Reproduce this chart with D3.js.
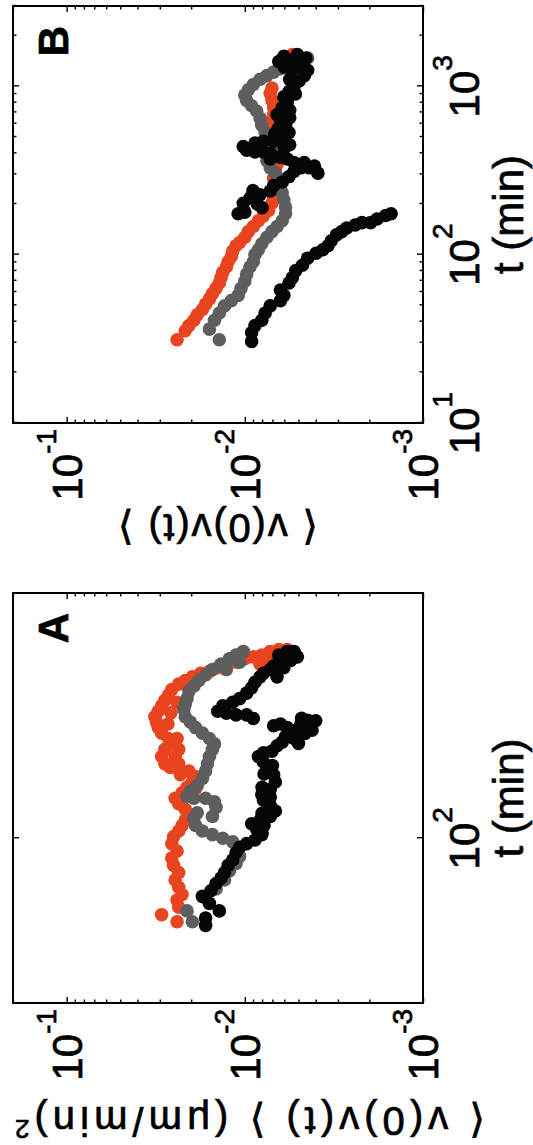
<!DOCTYPE html>
<html>
<head>
<meta charset="utf-8">
<script src="https://cdn.jsdelivr.net/npm/d3@7"></script>
<style>
  body { margin: 0; background: #fff; }
  text { font-family: "Liberation Sans", Arial, Helvetica, "DejaVu Sans", sans-serif; fill: #000; stroke: #000; stroke-width: 0.7px; }
</style>
</head>
<body>
<svg id="chart" width="533" height="1145"></svg>
<script>
// [t (min), <v(0)v(t)>]

const aRed = [[57.2,0.0293],[54.3,0.0240],[60.4,0.0235],[63.7,0.0240],[66.3,0.0225],[69.9,0.0235],[73.7,0.0246],[77.8,0.0235],
  [82.0,0.0251],[86.5,0.0257],[91.1,0.0240],[96.1,0.0257],[101.3,0.0251],[105.4,0.0235],[109.7,0.0225],[114.2,0.0216],
  [118.8,0.0206],[123.6,0.0216],[128.7,0.0235],[133.9,0.0246],[139.3,0.0225],[145.0,0.0211],[150.8,0.0197],[157.0,0.0189],
  [163.3,0.0206],[165.5,0.0235],[167.7,0.0262],[172.2,0.0281],[181.6,0.0293],[191.4,0.0281],[199.2,0.0257],[207.3,0.0268],
  [215.6,0.0293],[224.4,0.0306],[233.5,0.0313],[243.0,0.0320],[252.8,0.0306],[263.1,0.0293],[273.7,0.0281],[284.8,0.0268],
  [296.4,0.0257],[308.4,0.0235],[316.7,0.0216],[325.2,0.0197],[333.9,0.0177],[338.4,0.0158],[347.5,0.0142],[352.1,0.0127],
  [361.6,0.0112],[371.3,0.0100],[376.3,0.00896],[381.3,0.00803],[391.5,0.00720],[396.7,0.00645],[396.7,0.00578],
  [356.8,0.00821],[361.6,0.00720],[181.6,0.0246],[191.4,0.0235],[172.2,0.0235],[159.0,0.0230],[143.1,0.0190],
  [207.3,0.0240],[230.4,0.0270],[250.0,0.0260],[270.0,0.0240]];

const aGray = [[58.8,0.0211],[54.3,0.0197],[64.6,0.0166],[69.0,0.0145],[73.7,0.0130],[78.8,0.0122],[83.1,0.0112],[87.6,0.0107],
  [92.3,0.0109],[97.4,0.0117],[100,0.0133],[102.7,0.0152],[105.4,0.0173],[109.7,0.0189],[115.7,0.0193],[120.4,0.0185],
  [117.2,0.0152],[125.3,0.0145],[130.4,0.0148],[133.9,0.0166],[133.9,0.0193],[135.7,0.0211],[141.2,0.0202],[146.9,0.0185],
  [154.9,0.0173],[163.3,0.0166],[172.2,0.0162],[181.6,0.0158],[191.4,0.0152],[199.2,0.0148],[207.3,0.0158],[215.6,0.0173],
  [224.4,0.0189],[233.5,0.0202],[243.0,0.0216],[256.2,0.0220],[266.6,0.0216],[277.4,0.0211],[292.5,0.0206],[304.3,0.0193],
  [316.7,0.0181],[329.5,0.0166],[342.9,0.0152],[356.8,0.0136],[371.3,0.0122],[381.3,0.0112],[391.5,0.0102],[361.6,0.0107],
  [342.9,0.0127]];

const aBlack = [[52.9,0.0166],[58.8,0.0139],[55.8,0.0166],[62.1,0.0158],[65.4,0.0173],[68.1,0.0155],[71.8,0.0145],[74.7,0.0136],
  [77.8,0.0130],[82.0,0.0124],[85.3,0.0117],[89.9,0.0112],[93.6,0.0107],[96.1,0.00977],[98.7,0.00877],[102.7,0.00803],
  [106.9,0.00858],[111.2,0.00916],[114.2,0.00821],[117.2,0.00720],[122.0,0.00674],[127.0,0.00720],[132.1,0.00786],
  [137.5,0.00803],[143.1,0.00720],[150.8,0.00674],[159.0,0.00689],[167.7,0.00720],[174.5,0.00786],[181.6,0.00839],
  [186.5,0.00786],[189.0,0.00704],[196.6,0.00659],[201.8,0.00617],[210.0,0.00591],[215.6,0.00541],[221.4,0.00507],
  [230.4,0.00485],[236.6,0.00444],[233.5,0.00417],[227.4,0.00464],[207.3,0.00530],[224.4,0.00578],[230.4,0.00631],
  [227.4,0.00689],[239.8,0.00896],[246.2,0.00977],[246.2,0.0112],[249.5,0.0127],[252.8,0.0142],[263.1,0.0133],
  [270.1,0.0117],[277.4,0.0107],[288.6,0.00977],[300.3,0.00916],[312.5,0.00877],[325.2,0.00821],[333.9,0.00786],
  [342.9,0.00720],[352.1,0.00689],[361.6,0.00645],[371.3,0.00604],[381.3,0.00565],[391.5,0.00530],[376.3,0.00507],
  [366.4,0.00553],[347.5,0.00604],[325.2,0.00659],[391.5,0.00578],[381.3,0.00645],[104,0.0080],[110,0.0078],
  [120,0.0080],[135,0.0072],[145,0.0080],[160,0.0078],[170,0.0070],[200,0.0050],[215,0.0046],[220,0.0042],
  [236,0.0040],[240,0.0048],[210,0.0055]];

const bRed = [[31.2,0.0240],[35.3,0.0216],[37.9,0.0206],[40.8,0.0193],[43.9,0.0185],[47.2,0.0173],[50.8,0.0166],[54.6,0.0158],
  [58.7,0.0152],[63.1,0.0145],[67.9,0.0139],[73.0,0.0136],[78.5,0.0133],[84.4,0.0127],[90.8,0.0124],[97.6,0.0119],
  [105,0.0117],[113,0.0112],[118,0.0107],[127,0.0100],[137,0.00956],[147,0.00896],[159,0.00839],[170,0.00786],
  [183,0.00736],[202,0.00704],[217,0.00689],[233,0.00689],[257,0.00674],[284,0.00689],[312,0.00674],[344,0.00659],
  [379,0.00645],[418,0.00645],[460,0.00659],[507,0.00689],[559,0.00704],[616,0.00720],[679,0.00689],[748,0.00689],
  [824,0.00704],[908,0.00720],[977,0.00704],[1546,0.00541]];

const bGray = [[31.2,0.0139],[36.1,0.0158],[40.8,0.0148],[45.0,0.0139],[49.6,0.0130],[53.3,0.0119],[57.3,0.0109],[63.1,0.0105],
  [69.5,0.0100],[76.6,0.00977],[84.4,0.00936],[90.8,0.00896],[100,0.00877],[107,0.00839],[116,0.00803],[127,0.00752],
  [137,0.00704],[147,0.00659],[159,0.00617],[175,0.00591],[192,0.00591],[212,0.00604],[233,0.00617],[257,0.00631],
  [284,0.00645],[305,0.00674],[328,0.00720],[361,0.00752],[398,0.00736],[439,0.00704],[483,0.00720],[532,0.00769],
  [587,0.00803],[647,0.00821],[713,0.00858],[766,0.00916],[824,0.00977],[887,0.0100],[953,0.00956],[1025,0.00896],
  [1102,0.00821],[1157,0.00752],[1214,0.00689],[1274,0.00631],[1337,0.00578],[1403,0.00530],[1437,0.00485],[1473,0.00444]];

const bBlackUpper = [[175,0.0109],[179,0.0100],[202,0.0102],[217,0.00936],[227,0.00821],[239,0.00720],[257,0.00689],
  [270,0.00617],[291,0.00565],[312,0.00530],[328,0.00485],[328,0.00434],[305,0.00389],[336,0.00407],[353,0.00464],
  [353,0.00530],[370,0.00578],[379,0.00631],[388,0.00704],[408,0.00786],[408,0.00877],[418,0.00977],[439,0.0102],
  [460,0.00877],[472,0.00786],[472,0.00689],[495,0.00617],[532,0.00565],[587,0.00591],[631,0.00631],[679,0.00659],
  [748,0.00617],[804,0.00578],[865,0.00604],[930,0.00565],[1000,0.00530],[1075,0.00496],[1157,0.00464],[1245,0.00444],
  [1337,0.00475],[1403,0.00518],[1437,0.00578],[1403,0.00645],[1510,0.00604],[1546,0.00507],[1473,0.00454],
  [370,0.00720],[400,0.00720],[430,0.00600],[450,0.00560],[520,0.00680],[560,0.00650],[650,0.00560],[720,0.00560],
  [900,0.00520],[1100,0.00560],[1250,0.00540],[1300,0.00600],[240,0.00900],[200,0.00850],[190,0.00800]];

const bBlackLower = [[30.5,0.00916],[34.4,0.00916],[37.9,0.00877],[40.8,0.00803],[45.0,0.00769],[49.6,0.00720],[53.3,0.00631],
  [57.3,0.00604],[61.6,0.00631],[67.9,0.00565],[73.0,0.00541],[80.4,0.00518],[86.5,0.00475],[95.3,0.00444],[102,0.00398],
  [107,0.00365],[113,0.00341],[121,0.00327],[131,0.00306],[137,0.00286],[144,0.00268],[150,0.00240],[155,0.00220],
  [155,0.00197],[163,0.00181],[171,0.00162],[175,0.00151]];

const vDomain = [0.001, 0.2];
const colors = { red: "#e8441f", gray: "#5e5e5e", black: "#060606" };

const panels = [
  { letter: "A", left: 142, right: 552, tDomain: [30, 600], minorT: false,
    series: [[aRed, "red"], [aGray, "gray"], [aBlack, "black"]],
    yLabel: ["\u27E8 v(0)v(t) \u27E9 (\u03BCm/min)", "2"], yLabelX: 38, yLabelY: 250, yLabelLen: 470 },
  { letter: "B", left: 722, right: 1139, tDomain: [10, 3000], minorT: true,
    series: [[bRed, "red"], [bGray, "gray"], [bBlackUpper, "black"], [bBlackLower, "black"]],
    yLabel: ["\u27E8 v(0)v(t) \u27E9", ""], yLabelX: 631, yLabelY: 218, yLabelLen: 200 }
];

const plotTop = 13, plotBottom = 423;

const svg = d3.select("#chart");
// drawn as a landscape figure, then turned a quarter turn counter-clockwise
const fig = svg.append("g").attr("transform", "translate(0,1145) rotate(-90)");

const isPow = v => Math.abs(Math.log10(v) - Math.round(Math.log10(v))) < 1e-6;
const expOf = v => String(Math.round(Math.log10(v)));

panels.forEach(p => {
  const x = d3.scaleLog().domain(p.tDomain).range([p.left, p.right]);
  const y = d3.scaleLog().domain(vDomain).range([plotBottom, plotTop]);
  const g = fig.append("g");

  p.series.forEach(([data, c]) => {
    g.append("g").selectAll("circle").data(data).join("circle")
      .attr("cx", d => x(d[0]))
      .attr("cy", d => y(d[1]))
      .attr("r", 6.8)
      .attr("fill", colors[c]);
  });

  const tMajor = x.ticks().filter(isPow);
  const tMinor = p.minorT ? x.ticks().filter(v => !isPow(v)) : [];
  const vMajor = y.ticks().filter(isPow);
  const vMinor = y.ticks().filter(v => !isPow(v));

  const addAxis = (axis, values, size, tr) => {
    g.append("g").attr("transform", tr)
      .call(axis.tickValues(values).tickSize(-size).tickFormat(""))
      .call(s => s.select(".domain").remove())
      .selectAll("line").attr("stroke", "#000").attr("stroke-width", 1.4);
  };
  const w = p.right - p.left, h = plotBottom - plotTop;
  [[tMajor, 6], [tMinor, 3.5]].forEach(([vals, len]) => {
    addAxis(d3.axisBottom(x), vals, len, `translate(0,${plotBottom})`);
    addAxis(d3.axisTop(x), vals, len, `translate(0,${plotTop})`);
  });
  [[vMajor, 6], [vMinor, 3.5]].forEach(([vals, len]) => {
    addAxis(d3.axisLeft(y), vals, len, `translate(${p.left},0)`);
    addAxis(d3.axisRight(y), vals, len, `translate(${p.right},0)`);
  });

  g.append("rect")
    .attr("x", p.left).attr("y", plotTop).attr("width", w).attr("height", h)
    .attr("fill", "none").attr("stroke", "#000").attr("stroke-width", 2);

  // tick labels
  vMajor.forEach(v => {
    const t = g.append("text").attr("x", p.left - 6).attr("y", y(v) + 15)
      .attr("text-anchor", "end").attr("font-size", 42).text("10");
    t.append("tspan").attr("font-size", 28).attr("dy", -26).text(expOf(v));
  });
  tMajor.forEach(v => {
    const t = g.append("text").attr("x", x(v)).attr("y", 479)
      .attr("text-anchor", "middle").attr("font-size", 42).text("10");
    t.append("tspan").attr("font-size", 28).attr("dy", -27).text(expOf(v));
  });

  g.append("text").attr("x", (p.left + p.right) / 2).attr("y", 523)
    .attr("text-anchor", "middle").attr("font-size", 42).text("t (min)");

  const yl = g.append("text")
    .attr("transform", `translate(${p.yLabelX},${p.yLabelY}) rotate(-90)`)
    .attr("text-anchor", "middle").attr("font-size", 40)
    .attr("textLength", p.yLabelLen).attr("lengthAdjust", "spacing")
    .text(p.yLabel[0]);
  if (p.yLabel[1]) yl.append("tspan").attr("font-size", 26).attr("dy", -13).text(p.yLabel[1]);

  g.append("text").attr("x", p.right - 20).attr("y", plotTop + 55)
    .attr("text-anchor", "end").attr("font-size", 42).attr("font-weight", "bold").text(p.letter);
});
</script>
</body>
</html>
